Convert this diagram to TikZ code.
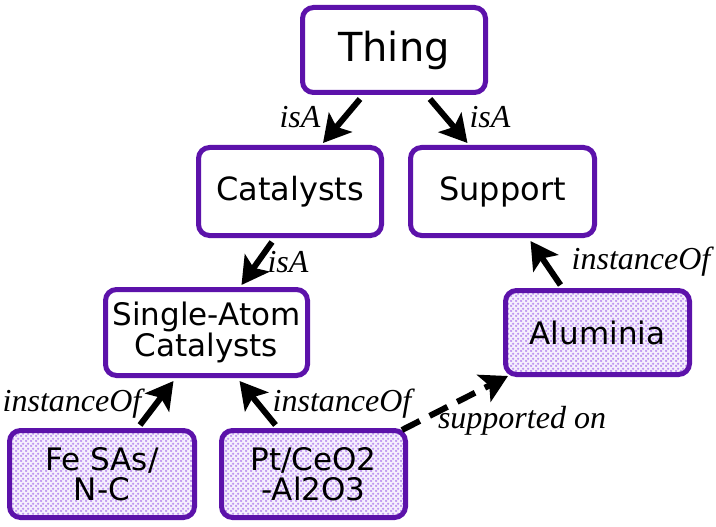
\documentclass[tikz,border=0pt]{standalone}
\usepackage{fontspec}
\newfontfamily\dv{DejaVu Sans}
\newfontfamily\lser{Liberation Serif}
\usetikzlibrary{arrows.meta,calc,patterns.meta}
\definecolor{boxpurple}{RGB}{92,18,170}
\definecolor{lav}{RGB}{190,150,240}
\definecolor{lavbg}{RGB}{246,240,253}
\tikzdeclarepattern{
  name=bigdots,
  type=uncolored,
  bounding box={(0pt,0pt) and (5pt,5pt)},
  tile size={(5pt,5pt)},
  code={
    \fill (1.25pt,1.25pt) circle (1.5pt);
    \fill (3.75pt,3.75pt) circle (1.5pt);
  }
}
\tikzset{
  box/.style={draw=boxpurple, line width=5pt, rounded corners=11pt, fill=white,
    align=center, font=\dv, text=black, inner sep=0pt},
  inst/.style={box, preaction={fill=lavbg}, pattern=bigdots, pattern color=lav},
  arr/.style={line width=6pt, -{Stealth[length=27pt,width=30pt,inset=6pt]}},
  lbl/.style={font=\lser\itshape\fontsize{32}{34}\selectfont, inner sep=0pt}
}
\begin{document}
\begin{tikzpicture}[x=1pt,y=-1pt]
\useasboundingbox (0,0) rectangle (716,527);
\node[box, minimum width=183pt, minimum height=85pt, font=\dv\fontsize{40}{44}\selectfont] (thing) at (394,50) {Thing};
\node[box, minimum width=183pt, minimum height=88pt, font=\dv\fontsize{32}{36}\selectfont] (cat) at (290,191.5) {Catalysts};
\node[box, minimum width=184pt, minimum height=88pt, font=\dv\fontsize{32}{36}\selectfont] (sup) at (502.5,191.5) {Support};
\node[box, minimum width=202pt, minimum height=86pt, font=\dv\fontsize{31}{30}\selectfont] (sac) at (206.5,332.5) {Single-Atom\\Catalysts};
\node[inst, minimum width=184pt, minimum height=84pt, font=\dv\fontsize{31}{36}\selectfont] (alu) at (597.5,332.5) {Aluminia};
\node[inst, minimum width=185pt, minimum height=87pt, font=\dv\fontsize{31}{30}\selectfont] (fe) at (102,474) {Fe SAs/\\N-C};
\node[inst, minimum width=184pt, minimum height=87pt, font=\dv\fontsize{31}{30}\selectfont] (pt) at (313.5,474) {Pt/CeO2\\-Al2O3};

\draw[arr] ($(thing.south)+(-34,4)$) -- ($(cat.north)+(33,-2)$);
\draw[arr] ($(thing.south)+(36,4)$) -- ($(sup.north)+(-35,-2)$);
\draw[arr] ($(cat.south)+(-18,4)$) -- ($(sac.north)+(35,-2)$);
\draw[arr] ($(alu.north)+(-37,-3)$) -- ($(sup.south)+(28,3)$);
\draw[arr] ($(fe.north)+(38,-3)$) -- ($(sac.south)+(-33,3)$);
\draw[arr] ($(pt.north)+(-38,-3)$) -- ($(sac.south)+(33,3)$);
\draw[arr, dash pattern=on 20pt off 11pt] ($(pt.north east)+(-6,2)$) -- ($(alu.south west)+(5,-1)$);

\node[lbl] (l1) at (300,117) {isA};
\node[lbl] (l2) at (490,117) {isA};
\node[lbl] (l3) at (288,262) {isA};
\node[lbl] (l4) at (641,262) {instanceOf};
\node[lbl] (l5) at (72,404) {instanceOf};
\node[lbl] (l6) at (342,404) {instanceOf};
\node[lbl] (l7) at (522,421) {supported on};
\end{tikzpicture}
\end{document}
